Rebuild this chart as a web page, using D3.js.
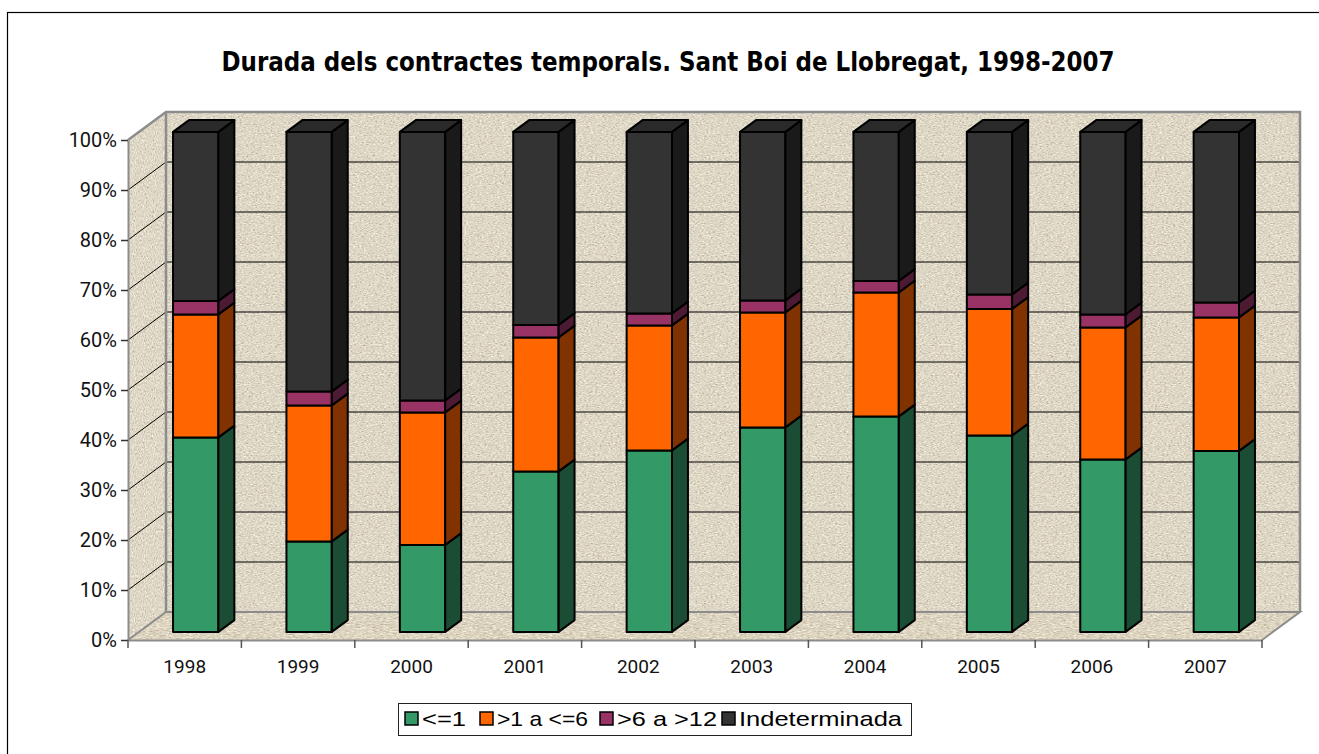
<!DOCTYPE html>
<html><head><meta charset="utf-8">
<script src="https://cdn.jsdelivr.net/npm/d3@7"></script>
<style>
html,body{margin:0;padding:0;background:#fff;}
svg{display:block;}
</style></head>
<body>
<svg id="chart" width="1319" height="754"></svg>
<script>
// ---- data ----
const years = ["1998","1999","2000","2001","2002","2003","2004","2005","2006","2007"];
const seriesNames = ["<=1", ">1 a <=6", ">6 a >12", "Indeterminada"];
const le1      = [38.9, 18.1, 17.4, 32.1, 36.3, 40.9, 43.1, 39.3, 34.5, 36.2];
const gt1le6   = [24.6, 27.2, 26.5, 26.8, 25.0, 23.0, 24.8, 25.3, 26.4, 26.7];
const gt6le12  = [ 2.7,  2.8,  2.4,  2.5,  2.4,  2.4,  2.3,  2.9,  2.6,  3.0];
const indet    = [33.8, 51.9, 53.7, 38.6, 36.3, 33.7, 29.8, 32.5, 36.5, 34.1];
const yTicks = [0,10,20,30,40,50,60,70,80,90,100];
const titleText = "Durada dels contractes temporals. Sant Boi de Llobregat, 1998-2007";

// ---- styles ----
const frontCol = ["#339966","#FF6600","#993366","#333333"];
const sideCol  = ["#1B4D34","#803300","#4D1A33","#1A1A1A"];
const topCol   = ["#267A4F","#CC5200","#7A2952","#2A2A2A"];

const svg = d3.select("#chart");
const defs = svg.append("defs");

function makeTexture(id, freq, seed){
  const f = defs.append("filter").attr("id", id)
    .attr("x",0).attr("y",0).attr("width",1).attr("height",1)
    .attr("color-interpolation-filters","sRGB");
  f.append("feTurbulence").attr("type","fractalNoise").attr("baseFrequency",freq)
    .attr("numOctaves",2).attr("seed",seed).attr("result","n");
  f.append("feColorMatrix").attr("in","n").attr("type","matrix")
    .attr("values","0 0 0 0 0.62  0 0 0 0 0.55  0 0 0 0 0.50  -2.2 0 0 0 0.9").attr("result","dark");
  f.append("feColorMatrix").attr("in","n").attr("type","matrix")
    .attr("values","0 0 0 0 1  0 0 0 0 0.98  0 0 0 0 0.90  2.4 0 0 0 -1.15").attr("result","light");
  const m = f.append("feMerge").attr("result","mg");
  m.append("feMergeNode").attr("in","SourceGraphic");
  m.append("feMergeNode").attr("in","dark");
  m.append("feMergeNode").attr("in","light");
  f.append("feComposite").attr("in","mg").attr("in2","SourceGraphic").attr("operator","in");
}
makeTexture("texBack", "0.45 1.1", 3);
makeTexture("texSide", "1.1 0.45", 7);
makeTexture("texFloor", "0.3 1.3", 11);

// outer frame
svg.append("rect").attr("x",7.5).attr("y",12.5).attr("width",1400).attr("height",900)
  .attr("fill","#fff").attr("stroke","#000").attr("stroke-width",1.2);

// ---- scales ----
const x = d3.scaleBand().domain(years).range([128, 1262]).padding(0);
const y = d3.scaleLinear().domain([0,100]).range([640, 140]);
const DX = 38, DY = 28;
const P = (px, py, d) => [px + DX*d, py - DY*d];
const poly = pts => pts.map(p => p.join(",")).join(" ");

const x0 = x.range()[0], x1 = x.range()[1];

// back wall
svg.append("polygon")
  .attr("points", poly([P(x0,y(100),1),P(x1,y(100),1),P(x1,y(0),1),P(x0,y(0),1)]))
  .attr("fill","#DAD3C2").attr("filter","url(#texBack)");
// side wall
svg.append("polygon")
  .attr("points", poly([P(x0,y(100),0),P(x0,y(100),1),P(x0,y(0),1),P(x0,y(0),0)]))
  .attr("fill","#DBD4C3").attr("filter","url(#texSide)");
// floor
svg.append("polygon")
  .attr("points", poly([P(x0,y(0),0),P(x0,y(0),1),P(x1,y(0),1),P(x1,y(0),0)]))
  .attr("fill","#D9D0BC").attr("filter","url(#texFloor)");

// gridlines
const grid = svg.append("g");
yTicks.filter(t => t>0 && t<100).forEach(t => {
  const a = P(x0,y(t),0), b = P(x0,y(t),1), c = P(x1,y(t),1);
  grid.append("polyline").attr("points", poly([a,b,c]))
    .attr("fill","none").attr("stroke","#000").attr("stroke-width",1);
});
// wall edges (grey)
const edge = svg.append("g").attr("fill","none").attr("stroke","#8C8C8C");
edge.append("polyline").attr("points", poly([P(x0,y(100),0),P(x0,y(100),1),P(x1,y(100),1),P(x1,y(0),1)]))
  .attr("stroke-width",2.5);
edge.append("line").attr("x1",P(x0,y(100),1)[0]).attr("y1",P(x0,y(100),1)[1])
  .attr("x2",P(x0,y(0),1)[0]).attr("y2",P(x0,y(0),1)[1]).attr("stroke-width",2.5);
edge.append("polyline").attr("points", poly([P(x0,y(0),0),P(x0,y(0),1),P(x1,y(0),1),P(x1,y(0),0)]))
  .attr("stroke-width",2);

// ---- bars ----
const rows = years.map((yr,i) => ({year:yr, a:le1[i], b:gt1le6[i], c:gt6le12[i], d:indet[i]}));
const stack = d3.stack().keys(["a","b","c","d"]);
const layers = stack(rows);
const bw = x.bandwidth()*0.4;
const d0 = 0.29, d1 = 0.71;
const barsG = svg.append("g").attr("stroke","#000").attr("stroke-width",2).attr("stroke-linejoin","round");
years.forEach((yr,i) => {
  const xl = x(yr) + (x.bandwidth()-bw)/2, xr = xl + bw;
  layers.forEach((layer,k) => {
    const v0 = layer[i][0], v1 = layer[i][1];
    const fa = P(xl,y(v0),d0), fb = P(xr,y(v0),d0), fc = P(xr,y(v1),d0), fd = P(xl,y(v1),d0);
    barsG.append("polygon").attr("points", poly([fa,fb,fc,fd])).attr("fill",frontCol[k]);
    barsG.append("polygon").attr("points", poly([P(xr,y(v0),d0),P(xr,y(v0),d1),P(xr,y(v1),d1),P(xr,y(v1),d0)]))
      .attr("fill",sideCol[k]);
    if (k === layers.length-1) {
      barsG.append("polygon").attr("points", poly([P(xl,y(v1),d0),P(xr,y(v1),d0),P(xr,y(v1),d1),P(xl,y(v1),d1)]))
        .attr("fill",topCol[k]);
    }
  });
});

// ---- axes ----
const fontAxis = "Roboto, 'DejaVu Sans Condensed', sans-serif";
const yAxis = d3.axisLeft(y).tickValues(yTicks).tickFormat(d => d + "%").tickSize(7).tickSizeOuter(0).tickPadding(4);
const gy = svg.append("g").attr("transform", `translate(${x0},0)`).call(yAxis);
gy.select(".domain").attr("stroke","#8C8C8C").attr("stroke-width",2);
gy.selectAll(".tick line").attr("stroke","#333").attr("stroke-width",1.5);
gy.selectAll("text").attr("font-family",fontAxis).attr("font-size",20).attr("fill","#111");

const xAxis = d3.axisBottom(x).tickSize(0).tickPadding(20).tickSizeOuter(0);
const gx = svg.append("g").attr("transform", `translate(0,${y(0)})`).call(xAxis);
gx.select(".domain").attr("stroke","#8C8C8C").attr("stroke-width",2);
gx.selectAll("text").attr("font-family",fontAxis).attr("font-size",19).attr("fill","#111");
// category boundary ticks
const bounds = years.map(yr => x(yr)).concat([x1]);
gx.selectAll("line.bound").data(bounds).join("line").attr("class","bound")
  .attr("x1",d=>d).attr("x2",d=>d).attr("y1",0).attr("y2",8)
  .attr("stroke","#555").attr("stroke-width",1.5);

// ---- title ----
svg.append("text").attr("x",668).attr("y",71).attr("text-anchor","middle")
  .attr("font-family","'DejaVu Sans Condensed', Roboto, sans-serif").attr("font-weight","bold")
  .attr("font-size",27).attr("textLength",893).attr("lengthAdjust","spacingAndGlyphs")
  .attr("fill","#000").text(titleText);

// ---- legend ----
const lg = svg.append("g");
lg.append("rect").attr("x",398.5).attr("y",703.5).attr("width",513).attr("height",32)
  .attr("fill","#fff").attr("stroke","#222").attr("stroke-width",1);
const legX = [405, 480, 600, 722];
const legW = [44, 91, 100, 163];
seriesNames.forEach((s,k) => {
  lg.append("rect").attr("x",legX[k]).attr("y",712).attr("width",13).attr("height",13)
    .attr("fill",frontCol[k]).attr("stroke","#000").attr("stroke-width",1.5);
  lg.append("text").attr("x",legX[k]+17).attr("y",726)
    .attr("font-family","'Liberation Sans', Arial, sans-serif").attr("font-size",21)
    .attr("textLength",legW[k]).attr("lengthAdjust","spacingAndGlyphs")
    .attr("fill","#000").text(s);
});
</script>
</body></html>
